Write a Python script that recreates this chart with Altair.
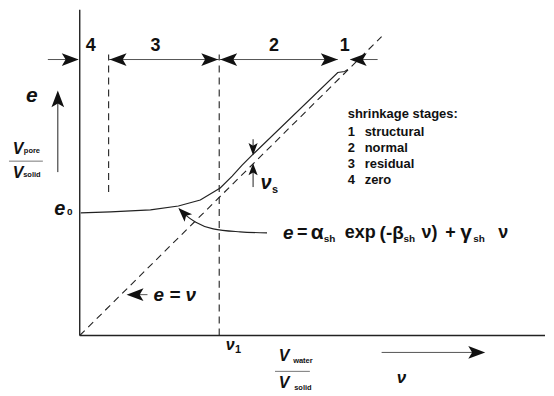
import altair as alt
import pandas as pd

# ---- data (nu = V_water/V_solid, e = V_pore/V_solid) ----
curve_nu = [0.01, 0.31, 0.71, 0.99, 1.21, 1.41, 1.53, 1.63, 1.73, 2.59, 2.66, 2.69]
curve_e  = [1.23, 1.24, 1.26, 1.30, 1.36, 1.48, 1.60, 1.71, 1.81, 2.64, 2.65, 2.67]

diag_nu = [0.0, 3.03]
diag_e = [0.0, 3.00]

nu_res_start = 0.29   # start of residual stage (dashed)
nu_1 = 1.40           # nu_1
stage_row_e = 2.77

pointer_nu = [1.88, 1.61, 1.34, 1.16, 1.06, 1.00]
pointer_e  = [1.03, 1.04, 1.07, 1.14, 1.21, 1.27]

stage_labels = ["4", "3", "2", "1"]
stage_label_nu = [0.11, 0.76, 1.95, 2.66]

legend_title = "shrinkage stages:"
legend_nums = ["1", "2", "3", "4"]
legend_names = ["structural", "normal", "residual", "zero"]
legend_e = [2.04, 1.88, 1.72, 1.56]

INK = "#222222"
GREY = "#555555"
FONT = "Liberation Sans"

xs = alt.Scale(domain=[-0.71, 4.67])
ys = alt.Scale(domain=[-0.56, 3.24])


def X(f="x"):
    return alt.X(f"{f}:Q", scale=xs, axis=None)


def Y(f="y"):
    return alt.Y(f"{f}:Q", scale=ys, axis=None)


# ---- line segments ----
solid_segs = pd.DataFrame([
    dict(x=0, y=0, x2=0, y2=3.27, w=1.4, c=INK),                    # e axis
    dict(x=0, y=0, x2=4.67, y2=0, w=1.4, c=INK),                    # nu axis
    dict(x=-0.32, y=stage_row_e, x2=-0.02, y2=stage_row_e, w=1, c=GREY),
    dict(x=nu_res_start, y=stage_row_e, x2=nu_1, y2=stage_row_e, w=1, c=GREY),
    dict(x=nu_1, y=stage_row_e, x2=2.59, y2=stage_row_e, w=1, c=GREY),
    dict(x=2.72, y=stage_row_e, x2=2.99, y2=stage_row_e, w=1, c=GREY),
    dict(x=-0.22, y=1.64, x2=-0.22, y2=2.40, w=1, c=INK),
    dict(x=1.74, y=1.97, x2=1.74, y2=1.86, w=1, c=INK),
    dict(x=1.74, y=1.49, x2=1.74, y2=1.68, w=1, c=INK),
    dict(x=0.55, y=0.41, x2=0.68, y2=0.41, w=1, c=GREY),
    dict(x=3.03, y=-0.17, x2=4.00, y2=-0.17, w=1, c=GREY),
    dict(x=-0.71, y=1.75, x2=-0.37, y2=1.75, w=0.8, c=GREY),
    dict(x=1.96, y=-0.36, x2=2.31, y2=-0.36, w=0.8, c=GREY),
])

dashed_segs = pd.DataFrame([
    dict(x=diag_nu[0], y=diag_e[0], x2=diag_nu[1], y2=diag_e[1]),
    dict(x=nu_res_start, y=1.44, x2=nu_res_start, y2=2.82),
    dict(x=nu_1, y=0.0, x2=nu_1, y2=2.82),
])

solid_layer = alt.Chart(solid_segs).mark_rule().encode(
    x=X(), y=Y(), x2="x2:Q", y2="y2:Q",
    strokeWidth=alt.StrokeWidth("w:Q", scale=None),
    color=alt.Color("c:N", scale=None),
)
dashed_layer = alt.Chart(dashed_segs).mark_rule(
    strokeDash=[7, 5], strokeWidth=1.1, color=INK
).encode(x=X(), y=Y(), x2="x2:Q", y2="y2:Q")

curve_df = pd.DataFrame({"x": curve_nu, "y": curve_e, "o": range(len(curve_nu))})
curve_layer = alt.Chart(curve_df).mark_line(color=INK, strokeWidth=1.2).encode(
    x=X(), y=Y(), order="o:Q")

pointer_df = pd.DataFrame({"x": pointer_nu, "y": pointer_e, "o": range(len(pointer_nu))})
pointer_layer = alt.Chart(pointer_df).mark_line(color=INK, strokeWidth=1.1, interpolate="monotone").encode(
    x=X(), y=Y(), order="o:Q")

# ---- arrow heads (tip at the point, pointing right before rotation) ----
HEAD = "M0,0L-2,-0.75L-1.55,0L-2,0.75Z"
heads = pd.DataFrame([
    dict(x=-0.01, y=stage_row_e, a=0, s=289),
    dict(x=nu_res_start + 0.01, y=stage_row_e, a=180, s=289),
    dict(x=nu_1 - 0.01, y=stage_row_e, a=0, s=289),
    dict(x=nu_1 + 0.01, y=stage_row_e, a=180, s=289),
    dict(x=2.59, y=stage_row_e, a=0, s=289),
    dict(x=2.71, y=stage_row_e, a=180, s=289),
    dict(x=-0.22, y=2.46, a=270, s=289),
    dict(x=1.74, y=1.81, a=90, s=150),
    dict(x=1.74, y=1.73, a=270, s=150),
    dict(x=0.47, y=0.41, a=180, s=289),
    dict(x=4.07, y=-0.17, a=0, s=289),
    dict(x=0.99, y=1.28, a=225, s=200),
])
head_layer = alt.Chart(heads).mark_point(
    shape=HEAD, filled=True, opacity=1, color="#111111", strokeWidth=0
).encode(
    x=X(), y=Y(),
    angle=alt.Angle("a:Q", scale=None),
    size=alt.Size("s:Q", scale=None),
)

# ---- texts ----
def text_layer(rows, align, italic=False):
    df = pd.DataFrame(rows, columns=["x", "y", "t", "fs"])
    return alt.Chart(df).mark_text(
        align=align, baseline="middle", font=FONT, fontWeight="bold",
        fontStyle="italic" if italic else "normal", color="#111111",
    ).encode(x=X(), y=Y(), text="t:N", size=alt.Size("fs:Q", scale=None))


upright_center = [[n, 2.91, s, 18] for n, s in zip(stage_label_nu, stage_labels)]
upright_center += [
    [-0.48, 1.85, "pore", 7.5],
    [-0.48, 1.61, "solid", 7.5],
    [-0.10, 1.24, "0", 10],
    [1.96, 1.46, "s", 11],
    [1.59, -0.15, "1", 11],
    [2.24, -0.26, "water", 7.5],
    [2.24, -0.53, "solid", 7.5],
]
upright_left = [[2.69, 2.22, legend_title, 13]]
upright_left += [[2.69, e, n, 13] for e, n in zip(legend_e, legend_nums)]
upright_left += [[2.86, e, n, 13] for e, n in zip(legend_e, legend_names)]

# formula e = α_sh exp(-β_sh ν) + γ_sh ν
formula_main = [
    [2.18, 1.03, "=", 18], [2.32, 1.03, "α", 21],
    [2.66, 1.03, "exp", 18], [3.01, 1.03, "(-β", 19], [3.43, 1.03, "ν)", 18],
    [3.67, 1.03, "+", 18], [3.82, 1.03, "γ", 21], [4.20, 1.03, "ν", 18],
]
formula_sub = [[2.45, 0.97, "sh", 10], [3.25, 0.97, "sh", 10], [3.95, 0.97, "sh", 10]]
upright_left += formula_main
upright_left += formula_sub

italic_center = [
    [-0.48, 2.40, "e", 21],
    [-0.62, 1.87, "V", 16],
    [-0.62, 1.63, "V", 16],
    [-0.20, 1.27, "e", 20],
    [1.87, 1.53, "ν", 20],
    [1.51, -0.10, "ν", 16],
    [2.05, -0.21, "V", 16],
    [2.05, -0.48, "V", 16],
    [3.23, -0.43, "ν", 17],
]
italic_left = [
    [0.74, 0.41, "e = ν", 19],
    [2.04, 1.03, "e", 19],
]

chart = alt.layer(
    dashed_layer, solid_layer, curve_layer, pointer_layer, head_layer,
    text_layer(upright_center, "center"),
    text_layer(upright_left, "left"),
    text_layer(italic_center, "center", italic=True),
    text_layer(italic_left, "left", italic=True),
).properties(width=538, height=380, padding=0).configure_view(stroke=None)

chart.save("out.html", embed_options={"renderer": "svg", "actions": False})
